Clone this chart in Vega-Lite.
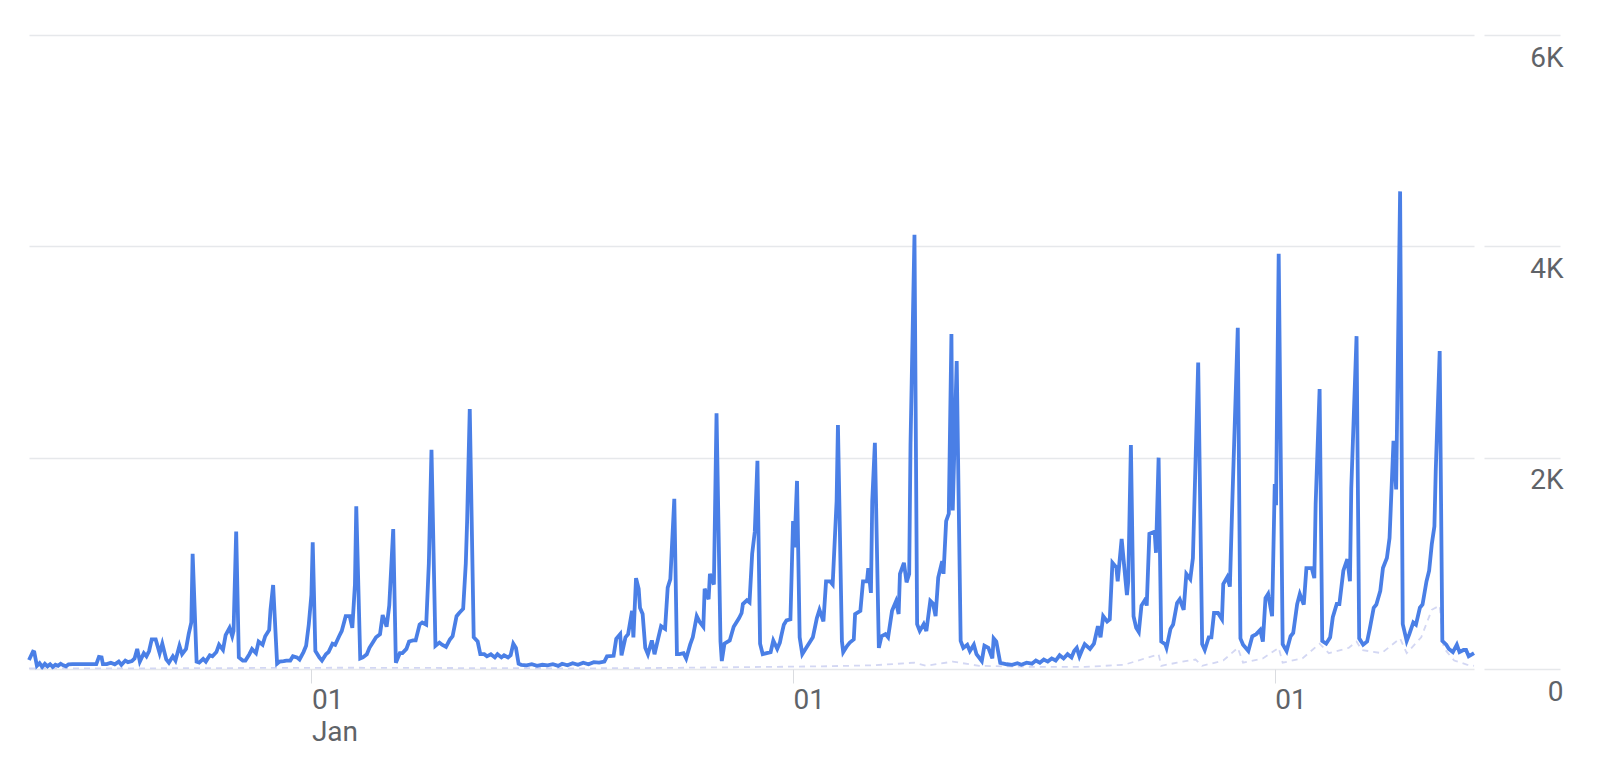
{
  "$schema": "https://vega.github.io/schema/vega-lite/v6.json",
  "width": 1445,
  "height": 634,
  "autosize": {"type": "none"},
  "padding": {"left": 29, "top": 35, "right": 126, "bottom": 89},
  "background": "white",
  "config": {
    "view": {"stroke": null},
    "font": "Roboto"
  },
  "datasets": {
    "current": [
      {"day":0,"value":85},{"day":3,"value":165},{"day":4,"value":160},{"day":6,"value":30},{"day":8,"value":55},{"day":10,"value":20},{"day":12,"value":50},{"day":14,"value":25},{"day":16,"value":45},{"day":18,"value":20},{"day":20,"value":40},{"day":22,"value":30},{"day":24,"value":50},{"day":26,"value":35},{"day":28,"value":25},{"day":30,"value":45},{"day":33,"value":47},{"day":51,"value":47},{"day":53,"value":115},{"day":55,"value":110},{"day":56,"value":47},{"day":59,"value":47},{"day":62,"value":60},{"day":65,"value":45},{"day":68,"value":70},{"day":70,"value":40},{"day":73,"value":80},{"day":75,"value":65},{"day":78,"value":75},{"day":80,"value":100},{"day":82,"value":190},{"day":84,"value":70},{"day":87,"value":150},{"day":89,"value":120},{"day":91,"value":170},{"day":93,"value":280},{"day":96,"value":280},{"day":99,"value":150},{"day":101,"value":240},{"day":104,"value":90},{"day":106,"value":60},{"day":109,"value":120},{"day":111,"value":80},{"day":114,"value":220},{"day":116,"value":140},{"day":119,"value":190},{"day":121,"value":330},{"day":123,"value":440},{"day":124,"value":1090},{"day":127,"value":70},{"day":129,"value":60},{"day":132,"value":95},{"day":134,"value":70},{"day":137,"value":130},{"day":139,"value":120},{"day":142,"value":160},{"day":144,"value":230},{"day":147,"value":180},{"day":149,"value":320},{"day":152,"value":390},{"day":154,"value":310},{"day":155,"value":360},{"day":157,"value":1300},{"day":159,"value":110},{"day":162,"value":80},{"day":164,"value":80},{"day":167,"value":140},{"day":169,"value":190},{"day":172,"value":150},{"day":174,"value":260},{"day":177,"value":230},{"day":179,"value":310},{"day":182,"value":370},{"day":183,"value":560},{"day":185,"value":795},{"day":188,"value":50},{"day":190,"value":70},{"day":193,"value":75},{"day":195,"value":80},{"day":198,"value":80},{"day":200,"value":120},{"day":203,"value":110},{"day":205,"value":90},{"day":208,"value":160},{"day":210,"value":220},{"day":212,"value":420},{"day":214,"value":700},{"day":215,"value":1200},{"day":217,"value":170},{"day":220,"value":110},{"day":222,"value":80},{"day":225,"value":140},{"day":227,"value":160},{"day":230,"value":240},{"day":232,"value":230},{"day":235,"value":310},{"day":237,"value":360},{"day":240,"value":500},{"day":243,"value":500},{"day":245,"value":390},{"day":247,"value":800},{"day":248,"value":1540},{"day":251,"value":100},{"day":253,"value":110},{"day":256,"value":140},{"day":258,"value":200},{"day":261,"value":260},{"day":263,"value":300},{"day":266,"value":330},{"day":268,"value":510},{"day":271,"value":400},{"day":273,"value":600},{"day":276,"value":1325},{"day":278,"value":60},{"day":281,"value":150},{"day":283,"value":150},{"day":286,"value":190},{"day":288,"value":260},{"day":291,"value":270},{"day":293,"value":270},{"day":296,"value":420},{"day":298,"value":440},{"day":301,"value":420},{"day":303,"value":1000},{"day":305,"value":2075},{"day":308,"value":220},{"day":311,"value":250},{"day":313,"value":230},{"day":316,"value":210},{"day":319,"value":280},{"day":321,"value":310},{"day":324,"value":500},{"day":326,"value":530},{"day":329,"value":570},{"day":331,"value":1000},{"day":332,"value":1400},{"day":334,"value":2460},{"day":337,"value":300},{"day":340,"value":260},{"day":342,"value":140},{"day":345,"value":140},{"day":347,"value":120},{"day":350,"value":140},{"day":353,"value":110},{"day":355,"value":140},{"day":358,"value":110},{"day":360,"value":130},{"day":363,"value":110},{"day":365,"value":130},{"day":367,"value":240},{"day":369,"value":200},{"day":371,"value":50},{"day":373,"value":40},{"day":377,"value":35},{"day":381,"value":45},{"day":385,"value":30},{"day":389,"value":40},{"day":393,"value":35},{"day":397,"value":45},{"day":401,"value":30},{"day":404,"value":50},{"day":408,"value":35},{"day":412,"value":55},{"day":416,"value":40},{"day":420,"value":60},{"day":424,"value":45},{"day":428,"value":65},{"day":432,"value":60},{"day":436,"value":70},{"day":438,"value":120},{"day":443,"value":125},{"day":445,"value":285},{"day":448,"value":330},{"day":449,"value":130},{"day":452,"value":300},{"day":454,"value":330},{"day":457,"value":550},{"day":458,"value":300},{"day":460,"value":860},{"day":462,"value":760},{"day":463,"value":580},{"day":465,"value":520},{"day":467,"value":200},{"day":469,"value":140},{"day":472,"value":270},{"day":474,"value":140},{"day":477,"value":300},{"day":479,"value":405},{"day":482,"value":380},{"day":484,"value":770},{"day":486,"value":850},{"day":489,"value":1610},{"day":491,"value":140},{"day":493,"value":140},{"day":496,"value":150},{"day":498,"value":100},{"day":501,"value":230},{"day":503,"value":300},{"day":506,"value":500},{"day":508,"value":450},{"day":511,"value":400},{"day":512,"value":760},{"day":515,"value":660},{"day":516,"value":900},{"day":519,"value":800},{"day":521,"value":2420},{"day":524,"value":260},{"day":525,"value":75},{"day":527,"value":240},{"day":531,"value":270},{"day":534,"value":400},{"day":538,"value":480},{"day":540,"value":530},{"day":541,"value":615},{"day":544,"value":650},{"day":546,"value":630},{"day":548,"value":1090},{"day":550,"value":1300},{"day":552,"value":1970},{"day":554,"value":240},{"day":556,"value":140},{"day":559,"value":150},{"day":562,"value":160},{"day":564,"value":270},{"day":567,"value":190},{"day":569,"value":250},{"day":570,"value":310},{"day":572,"value":420},{"day":574,"value":460},{"day":577,"value":470},{"day":579,"value":1400},{"day":580,"value":1150},{"day":582,"value":1780},{"day":584,"value":300},{"day":586,"value":140},{"day":589,"value":200},{"day":592,"value":260},{"day":594,"value":300},{"day":597,"value":480},{"day":599,"value":560},{"day":602,"value":450},{"day":604,"value":830},{"day":607,"value":830},{"day":609,"value":800},{"day":612,"value":1590},{"day":613,"value":2310},{"day":616,"value":265},{"day":617,"value":160},{"day":620,"value":220},{"day":622,"value":250},{"day":625,"value":280},{"day":626,"value":520},{"day":630,"value":550},{"day":632,"value":830},{"day":635,"value":830},{"day":636,"value":955},{"day":638,"value":720},{"day":639,"value":1590},{"day":641,"value":2140},{"day":644,"value":200},{"day":646,"value":310},{"day":649,"value":330},{"day":651,"value":300},{"day":654,"value":550},{"day":657,"value":640},{"day":659,"value":520},{"day":660,"value":900},{"day":663,"value":1005},{"day":665,"value":820},{"day":667,"value":900},{"day":668,"value":2130},{"day":671,"value":4110},{"day":673,"value":425},{"day":675,"value":360},{"day":678,"value":425},{"day":680,"value":360},{"day":683,"value":645},{"day":685,"value":620},{"day":687,"value":500},{"day":689,"value":865},{"day":692,"value":1020},{"day":693,"value":900},{"day":695,"value":1400},{"day":697,"value":1470},{"day":699,"value":3170},{"day":700,"value":1500},{"day":703,"value":2915},{"day":706,"value":265},{"day":708,"value":200},{"day":711,"value":230},{"day":713,"value":170},{"day":716,"value":230},{"day":718,"value":140},{"day":722,"value":75},{"day":724,"value":220},{"day":727,"value":200},{"day":730,"value":100},{"day":731,"value":290},{"day":733,"value":260},{"day":736,"value":57},{"day":741,"value":45},{"day":745,"value":40},{"day":749,"value":55},{"day":752,"value":40},{"day":756,"value":60},{"day":760,"value":50},{"day":763,"value":80},{"day":766,"value":60},{"day":769,"value":90},{"day":772,"value":70},{"day":775,"value":100},{"day":778,"value":80},{"day":781,"value":130},{"day":784,"value":100},{"day":787,"value":140},{"day":790,"value":110},{"day":792,"value":170},{"day":794,"value":200},{"day":796,"value":120},{"day":798,"value":180},{"day":800,"value":235},{"day":804,"value":190},{"day":807,"value":240},{"day":810,"value":405},{"day":812,"value":300},{"day":814,"value":500},{"day":817,"value":450},{"day":819,"value":470},{"day":821,"value":1005},{"day":824,"value":960},{"day":825,"value":830},{"day":828,"value":1230},{"day":831,"value":830},{"day":832,"value":700},{"day":833,"value":830},{"day":835,"value":2120},{"day":837,"value":500},{"day":839,"value":390},{"day":841,"value":350},{"day":843,"value":600},{"day":846,"value":660},{"day":847,"value":600},{"day":849,"value":1280},{"day":853,"value":1300},{"day":854,"value":1100},{"day":856,"value":2000},{"day":858,"value":260},{"day":861,"value":235},{"day":862,"value":200},{"day":865,"value":380},{"day":867,"value":420},{"day":870,"value":625},{"day":872,"value":660},{"day":875,"value":560},{"day":877,"value":900},{"day":880,"value":850},{"day":882,"value":1050},{"day":884,"value":1970},{"day":886,"value":2900},{"day":889,"value":235},{"day":891,"value":180},{"day":894,"value":300},{"day":896,"value":300},{"day":898,"value":530},{"day":901,"value":530},{"day":904,"value":470},{"day":905,"value":805},{"day":908,"value":870},{"day":910,"value":780},{"day":912,"value":1640},{"day":916,"value":3230},{"day":918,"value":290},{"day":920,"value":230},{"day":924,"value":170},{"day":927,"value":310},{"day":930,"value":330},{"day":933,"value":370},{"day":935,"value":260},{"day":937,"value":670},{"day":939,"value":710},{"day":942,"value":500},{"day":944,"value":1750},{"day":945,"value":1550},{"day":947,"value":3930},{"day":950,"value":235},{"day":953,"value":170},{"day":956,"value":310},{"day":958,"value":340},{"day":961,"value":615},{"day":963,"value":710},{"day":966,"value":610},{"day":968,"value":955},{"day":972,"value":955},{"day":974,"value":860},{"day":975,"value":1560},{"day":978,"value":2650},{"day":980,"value":265},{"day":983,"value":240},{"day":986,"value":300},{"day":988,"value":490},{"day":991,"value":615},{"day":993,"value":615},{"day":996,"value":930},{"day":999,"value":1040},{"day":1001,"value":830},{"day":1002,"value":1710},{"day":1006,"value":3150},{"day":1008,"value":290},{"day":1011,"value":230},{"day":1014,"value":260},{"day":1016,"value":380},{"day":1019,"value":580},{"day":1021,"value":610},{"day":1024,"value":740},{"day":1026,"value":955},{"day":1029,"value":1050},{"day":1031,"value":1240},{"day":1034,"value":2160},{"day":1036,"value":1700},{"day":1039,"value":4520},{"day":1041,"value":425},{"day":1044,"value":265},{"day":1046,"value":330},{"day":1049,"value":440},{"day":1051,"value":420},{"day":1054,"value":580},{"day":1056,"value":610},{"day":1059,"value":830},{"day":1061,"value":930},{"day":1063,"value":1180},{"day":1065,"value":1350},{"day":1066,"value":1870},{"day":1069,"value":3010},{"day":1071,"value":265},{"day":1074,"value":230},{"day":1076,"value":190},{"day":1079,"value":160},{"day":1082,"value":230},{"day":1084,"value":160},{"day":1087,"value":180},{"day":1089,"value":180},{"day":1091,"value":120},{"day":1095,"value":150}
    ],
    "previous": [
      {"day":0,"value":5},{"day":60,"value":5},{"day":120,"value":8},{"day":180,"value":10},{"day":240,"value":12},{"day":300,"value":10},{"day":360,"value":8},{"day":420,"value":6},{"day":480,"value":10},{"day":520,"value":15},{"day":560,"value":20},{"day":600,"value":25},{"day":640,"value":35},{"day":671,"value":60},{"day":680,"value":30},{"day":700,"value":70},{"day":720,"value":30},{"day":760,"value":20},{"day":800,"value":20},{"day":830,"value":40},{"day":856,"value":140},{"day":858,"value":30},{"day":870,"value":60},{"day":884,"value":90},{"day":889,"value":30},{"day":905,"value":80},{"day":916,"value":200},{"day":920,"value":60},{"day":935,"value":100},{"day":947,"value":200},{"day":950,"value":60},{"day":965,"value":100},{"day":978,"value":240},{"day":985,"value":150},{"day":1000,"value":200},{"day":1006,"value":260},{"day":1010,"value":180},{"day":1025,"value":150},{"day":1039,"value":290},{"day":1044,"value":150},{"day":1055,"value":300},{"day":1063,"value":560},{"day":1069,"value":600},{"day":1072,"value":200},{"day":1080,"value":80},{"day":1090,"value":40},{"day":1095,"value":30}
    ]
  },
  "encoding": {
    "x": {
      "field": "day",
      "type": "quantitative",
      "scale": {"domain": [0, 1095], "nice": false, "zero": false},
      "axis": {
        "title": null,
        "grid": false,
        "domain": false,
        "ticks": true,
        "tickColor": "#dadce0",
        "tickSize": 14,
        "tickWidth": 1,
        "values": [214, 579, 944],
        "labelExpr": "datum.value == 214 ? ['01', 'Jan'] : '01'",
        "labelAlign": "left",
        "labelBaseline": "top",
        "labelPadding": 3,
        "labelLineHeight": 32,
        "labelFont": "Roboto",
        "labelFontSize": 28,
        "labelColor": "#5f6368",
        "labelFlush": false,
        "labelOverlap": false
      }
    },
    "y": {
      "field": "value",
      "type": "quantitative",
      "scale": {"domain": [0, 6000], "nice": false},
      "axis": {
        "title": null,
        "orient": "right",
        "values": [0, 2000, 4000, 6000],
        "labelExpr": "datum.value == 0 ? '0' : (datum.value / 1000) + 'K'",
        "grid": true,
        "gridColor": "#e6e8eb",
        "gridWidth": 1.5,
        "domain": false,
        "ticks": true,
        "tickColor": "#e6e8eb",
        "tickWidth": 1.5,
        "tickSize": 76,
        "offset": 10,
        "labelAlign": "right",
        "labelBaseline": "alphabetic",
        "labelOffset": 31,
        "labelPadding": 3,
        "labelFont": "Roboto",
        "labelFontSize": 28,
        "labelColor": "#5f6368",
        "labelFlush": false,
        "labelOverlap": false
      }
    }
  },
  "layer": [
    {
      "data": {"name": "previous"},
      "mark": {"type": "line", "stroke": "#d3d7f3", "strokeWidth": 1.8, "strokeDash": [6, 5]}
    },
    {
      "data": {"name": "current"},
      "mark": {"type": "line", "stroke": "#4a7fe6", "strokeWidth": 3.8}
    }
  ]
}
